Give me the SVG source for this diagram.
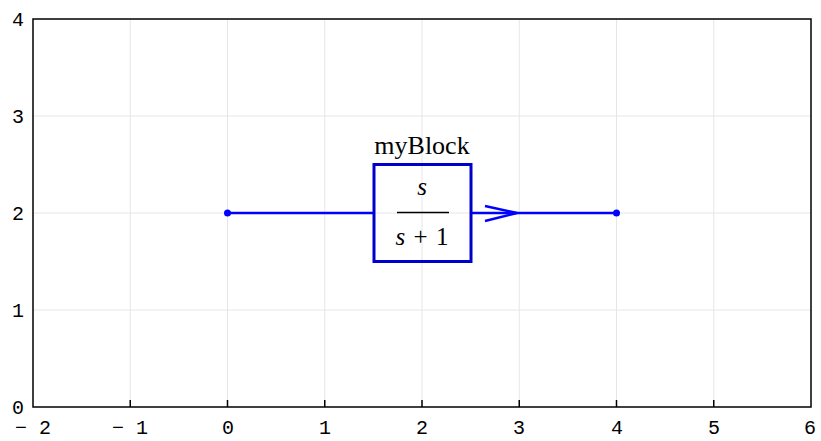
<svg xmlns="http://www.w3.org/2000/svg" width="821" height="441" viewBox="0 0 821 441">
<style>
.grid{stroke:#e6e6e6;stroke-width:1;fill:none}
.axis{stroke:#000;stroke-width:1.5;fill:none}
.tl{font-family:"Liberation Mono",monospace;font-size:20px;fill:#000}
.wire{stroke:#0000ff;stroke-width:2.5;fill:none}
.math{font-family:"Liberation Serif",serif;font-size:25px;fill:#000}
</style>
<rect width="821" height="441" fill="#fff"/>
<g id="grid">
<path class="grid" d="M130.25 19V407M227.5 19V407M324.75 19V407M422 19V407M519.25 19V407M616.5 19V407M713.75 19V407M33 310H811M33 213H811M33 116H811"/>
</g>
<g id="axes">
<rect class="axis" x="33" y="19" width="778" height="388"/>
<path class="axis" d="M130.25 407v-7M227.5 407v-7M324.75 407v-7M422 407v-7M519.25 407v-7M616.5 407v-7M713.75 407v-7"/>
<g class="tl" text-anchor="middle">
<text x="33" y="434">− 2</text>
<text x="130" y="434">− 1</text>
<text x="228" y="434">0</text>
<text x="325" y="434">1</text>
<text x="422" y="434">2</text>
<text x="519" y="434">3</text>
<text x="617" y="434">4</text>
<text x="714" y="434">5</text>
<text x="810" y="434">6</text>
</g>
<g class="tl" text-anchor="end">
<text x="24" y="414">0</text>
<text x="24" y="317">1</text>
<text x="24" y="220">2</text>
<text x="24" y="123">3</text>
<text x="24" y="26">4</text>
</g>
</g>
<g id="connectors">
<path class="wire" d="M227.5 213H374"/>
<path class="wire" d="M472 213H616.5"/>
<path class="wire" d="M485 206L517 213L485 221"/>
<circle cx="227.5" cy="213" r="3.5" fill="#0000ff"/>
<circle cx="616.5" cy="213" r="3.5" fill="#0000ff"/>
</g>
<g id="myBlock">
<rect x="374" y="164.5" width="97" height="97" fill="none" stroke="#0000cc" stroke-width="3"/>
<text x="422" y="154" text-anchor="middle" font-family="Liberation Serif,serif" font-size="26px">myBlock</text>
<text class="math" x="422" y="195" text-anchor="middle" font-style="italic">s</text>
<line x1="397" y1="212.5" x2="449" y2="212.5" stroke="#000" stroke-width="1.3"/>
<text class="math" x="422" y="245" text-anchor="middle" word-spacing="2"><tspan font-style="italic">s</tspan> + 1</text>
</g>
</svg>
